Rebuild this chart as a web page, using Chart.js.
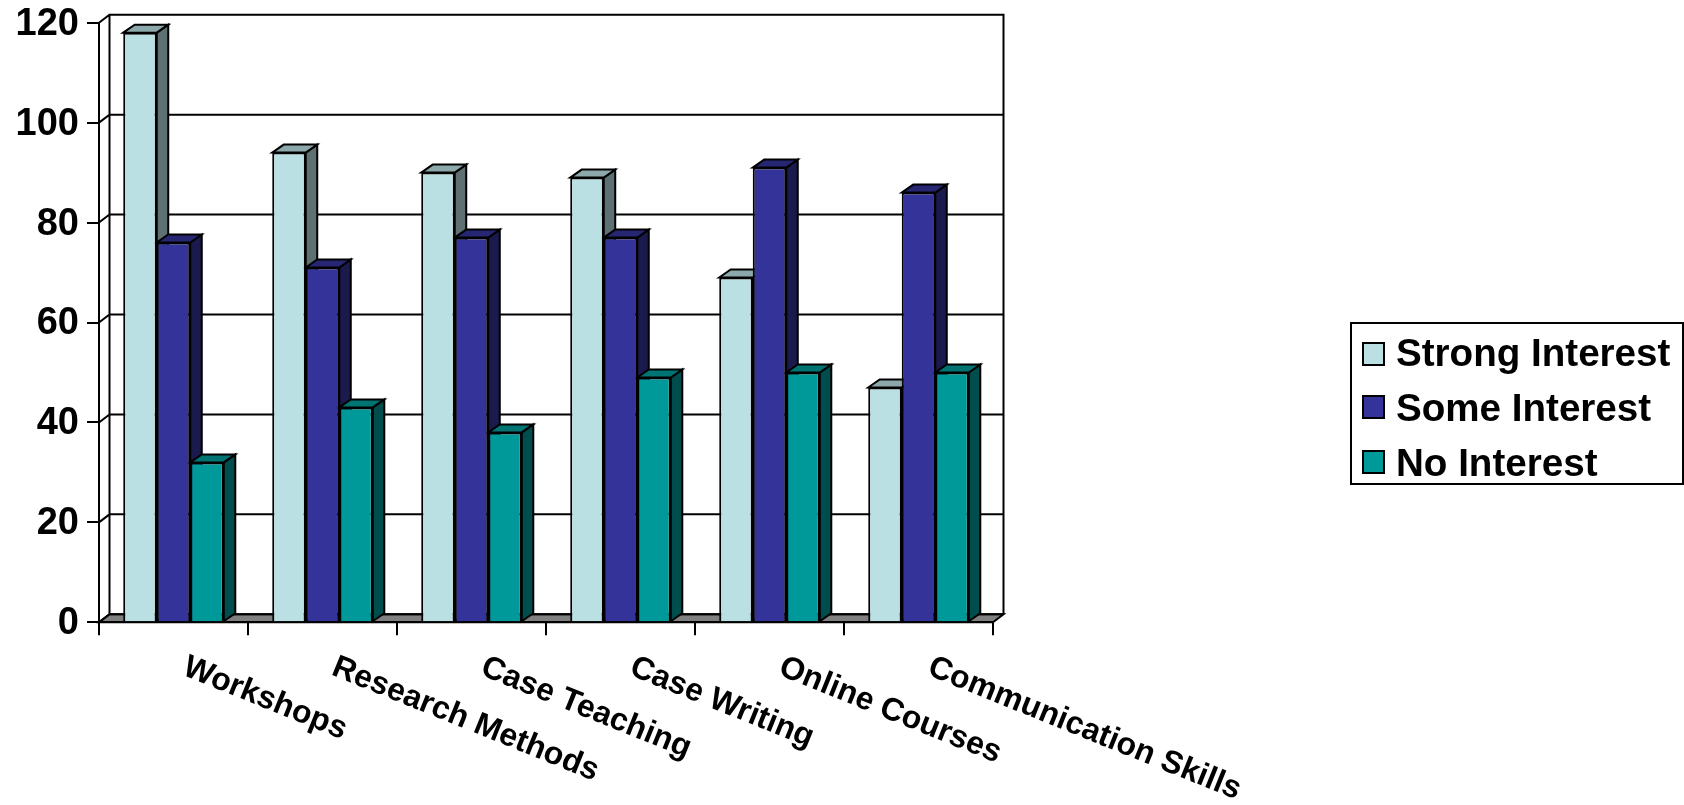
<!DOCTYPE html>
<html><head><meta charset="utf-8">
<style>html,body{margin:0;padding:0;background:#fff;overflow:hidden}canvas{display:block}</style>
<script src="https://cdn.jsdelivr.net/npm/chart.js@4"></script>
</head><body><canvas id="c" width="1684" height="805" style="width:1684px;height:805px"></canvas>
<script>
const categories = ["Workshops","Research Methods","Case Teaching","Case Writing","Online Courses","Communication Skills"];
const strongInterest = [118,94,90,89,69,47];
const someInterest = [76,71,77,77,91,86];
const noInterest = [32,43,38,49,50,50];
const yTicks = [0,20,40,60,80,100,120];

const FONT = '"Liberation Sans", Arial, sans-serif';
const DX = 10.5, DY = 8, BDX = 11.5;
const faces = [
  {front:'#BBE0E3', side:'#5E7072', top:'#8CA8AA'},
  {front:'#333399', side:'#1A1A4D', top:'#262673'},
  {front:'#009999', side:'#004D4D', top:'#007373'}
];

function poly(ctx, pts, fill){
  ctx.beginPath();
  pts.forEach((p,i)=> i?ctx.lineTo(p[0],p[1]):ctx.moveTo(p[0],p[1]));
  ctx.closePath();
  if(fill){ctx.fillStyle=fill;ctx.fill();}
  ctx.stroke();
}
function noPad(s){s.paddingTop=0;s.paddingBottom=0;s.paddingLeft=0;s.paddingRight=0;}
const walls = {
  id:'walls',
  beforeDraw(chart){
    const {ctx,chartArea:a,scales:{y}} = chart;
    ctx.save();
    ctx.strokeStyle='#000';ctx.lineWidth=2;
    poly(ctx,[[a.left,a.bottom],[a.left+DX,a.bottom-DY],[a.right+DX,a.bottom-DY],[a.right,a.bottom]],'#808080');
    ctx.beginPath();
    ctx.moveTo(a.left+DX,a.bottom-DY);ctx.lineTo(a.left+DX,a.top-DY);
    ctx.lineTo(a.right+DX,a.top-DY);ctx.lineTo(a.right+DX,a.bottom-DY);
    yTicks.forEach(v=>{
      const p=y.getPixelForValue(v);
      ctx.moveTo(a.left,p);ctx.lineTo(a.left+DX,p-DY);
      ctx.lineTo(a.right+DX,p-DY);
    });
    ctx.stroke();
    ctx.restore();
  },
  beforeDatasetsDraw(chart){
    const {ctx} = chart;
    ctx.save();
    ctx.strokeStyle='#000';ctx.lineWidth=2;ctx.lineJoin='miter';
    categories.forEach((_,i)=>{
      faces.forEach((f,d)=>{
        const b=chart.getDatasetMeta(d).data[i];
        const L=b.x-b.width/2,R=b.x+b.width/2;
        poly(ctx,[[R,b.base],[R+BDX,b.base-DY],[R+BDX,b.y-DY],[R,b.y]],f.side);
        poly(ctx,[[L,b.y],[L+BDX,b.y-DY],[R+BDX,b.y-DY],[R,b.y]],f.top);
      });
    });
    ctx.restore();
  },
  afterDraw(chart){
    const {ctx} = chart;
    ctx.save();
    ctx.strokeStyle='#000';ctx.lineWidth=2;
    ctx.fillStyle='#fff';
    ctx.fillRect(1351,323,332,161);ctx.strokeRect(1351,323,332,161);
    const sy=[343,396,451], ty=[355.5,410,465];
    chart.data.datasets.forEach((ds,i)=>{
      ctx.fillStyle=ds.backgroundColor;
      ctx.fillRect(1363,sy[i],21,22);ctx.strokeRect(1363,sy[i],21,22);
      ctx.fillStyle='#000';
      ctx.font='bold 38.6px '+FONT;ctx.textBaseline='middle';ctx.textAlign='left';
      ctx.fillText(ds.label,1396,ty[i]);
    });
    ctx.restore();
  }
};

new Chart(document.getElementById('c'),{
  type:'bar',
  data:{labels:categories,datasets:[
    {label:'Strong Interest',data:strongInterest,backgroundColor:faces[0].front},
    {label:'Some Interest',data:someInterest,backgroundColor:faces[1].front},
    {label:'No Interest',data:noInterest,backgroundColor:faces[2].front}
  ].map(d=>Object.assign(d,{borderColor:'#000',borderWidth:2,barPercentage:1,categoryPercentage:0.675}))},
  options:{
    responsive:false,animation:false,devicePixelRatio:1,
    layout:{padding:{left:0,top:22.7,right:691,bottom:0}},
    plugins:{legend:{display:false},tooltip:{enabled:false},title:{display:false}},
    scales:{
      x:{
        grid:{drawOnChartArea:false,tickLength:13,color:'#000',lineWidth:2,offset:true},
        border:{color:'#000',width:2},
        ticks:{color:'#000',font:{family:FONT,weight:'bold',size:32},minRotation:-22,maxRotation:-22,autoSkip:false,padding:13,labelOffset:11},
        afterFit(s){s.height=182.7;noPad(s);s._getXAxisLabelAlignment=()=>'left';}
      },
      y:{
        min:0,max:120,
        grid:{drawOnChartArea:false,tickLength:12,color:'#000',lineWidth:2},
        border:{color:'#000',width:2},
        afterBuildTicks(s){s.ticks=yTicks.map(v=>({value:v}));},
        ticks:{color:'#000',font:{family:FONT,weight:'bold',size:38},padding:8,labelOffset:1.5},
        afterFit(s){s.width=99;noPad(s);}
      }
    }
  },
  plugins:[walls]
});
</script></body></html>
